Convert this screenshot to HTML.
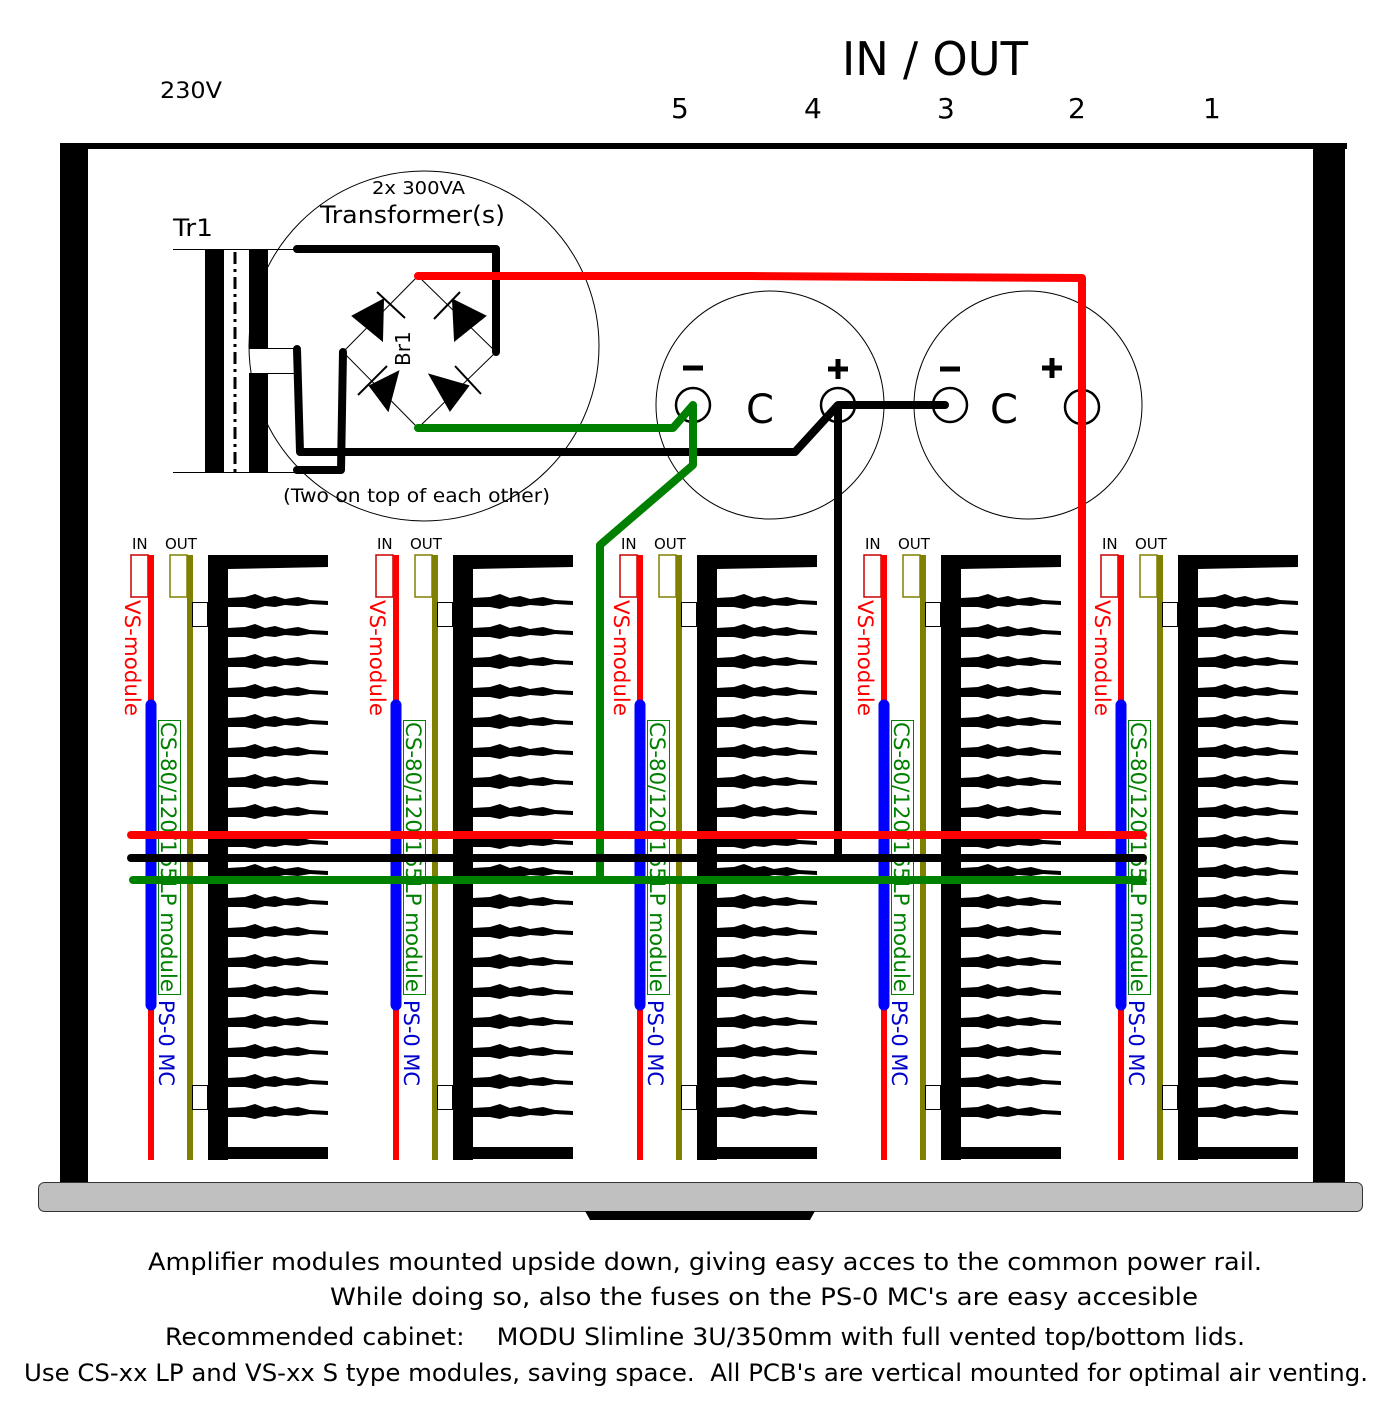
<!DOCTYPE html>
<html><head><meta charset="utf-8"><style>
html,body{margin:0;padding:0;background:#fff;width:1396px;height:1415px;overflow:hidden}
svg{display:block}
text{font-family:"DejaVu Sans","Liberation Sans",sans-serif}
</style></head><body>
<svg id="s" width="1396" height="1415" viewBox="0 0 1396 1415" xmlns="http://www.w3.org/2000/svg">
<text x="160" y="98" font-size="22" textLength="62" lengthAdjust="spacingAndGlyphs">230V</text>
<text x="842" y="75" font-size="46" textLength="186" lengthAdjust="spacingAndGlyphs">IN / OUT</text>
<g font-size="28"><text x="671" y="118">5</text><text x="804" y="118">4</text><text x="937" y="118">3</text><text x="1068" y="118">2</text><text x="1203" y="118">1</text></g>
<!-- cabinet -->
<rect x="60" y="143" width="1287" height="6" fill="#000"/>
<rect x="60" y="143" width="28" height="1042" fill="#000"/>
<rect x="1313" y="143" width="32" height="1042" fill="#000"/>
<rect x="38.5" y="1182.5" width="1324" height="29" rx="6" fill="#c0c0c0" stroke="#333"/>
<path d="M585 1211 H815 L810 1220 H590 Z" fill="#000"/>
<!-- transformer -->
<circle cx="424" cy="346" r="175" fill="none" stroke="#000" stroke-width="1"/>
<text x="372" y="194" font-size="18" textLength="93" lengthAdjust="spacingAndGlyphs">2x 300VA</text>
<text x="320" y="223" font-size="24" textLength="185" lengthAdjust="spacingAndGlyphs">Transformer(s)</text>
<text x="173" y="236" font-size="24" textLength="40" lengthAdjust="spacingAndGlyphs">Tr1</text>
<text x="283" y="502" font-size="19" textLength="267" lengthAdjust="spacingAndGlyphs">(Two on top of each other)</text>
<line x1="173" y1="249.5" x2="300" y2="249.5" stroke="#000"/>
<line x1="173" y1="472.5" x2="300" y2="472.5" stroke="#000"/>
<rect x="205" y="249" width="19" height="223" fill="#000"/>
<line x1="235" y1="252" x2="235" y2="472" stroke="#000" stroke-width="3" stroke-dasharray="12,5,3,5"/>
<rect x="249" y="249" width="19" height="100" fill="#000"/>
<rect x="249" y="373" width="19" height="99" fill="#000"/>
<line x1="268" y1="348.5" x2="300" y2="348.5" stroke="#000"/>
<line x1="268" y1="373.5" x2="300" y2="373.5" stroke="#000"/>
<!-- bridge -->
<path d="M418 276 L496 352 L418 428 L343 352 Z" fill="none" stroke="#000" stroke-width="1"/>
<text transform="translate(410,366) rotate(-90)" font-size="20">Br1</text>
<g fill="#000" stroke="#000" stroke-width="2">
<path d="M353 316 L383 300 L382 340 Z"/><line x1="377" y1="292" x2="405" y2="318"/>
<path d="M485 316 L453 300 L455 340 Z"/><line x1="460" y1="292" x2="434" y2="319"/>
<path d="M370 386 L398 372 L388 410 Z"/><line x1="358" y1="395" x2="387" y2="366"/>
<path d="M468 386 L430 375 L450 410 Z"/><line x1="455" y1="366" x2="481" y2="394"/>
</g>
<!-- capacitors -->
<circle cx="770" cy="405" r="114" fill="none" stroke="#000"/>
<circle cx="1028" cy="405" r="114" fill="none" stroke="#000"/>
<g fill="none" stroke="#000" stroke-width="2.5">
<circle cx="693" cy="405" r="17"/><circle cx="838" cy="405" r="17"/><circle cx="950" cy="405" r="17"/><circle cx="1082" cy="407" r="17"/>
</g>
<g font-size="40"><text x="746" y="423">C</text><text x="990" y="423">C</text></g>
<g stroke="#000" stroke-width="5"><line x1="683" y1="368" x2="703" y2="368"/><line x1="828" y1="369" x2="848" y2="369"/><line x1="838" y1="359" x2="838" y2="379"/>
<line x1="940" y1="369" x2="960" y2="369"/><line x1="1042" y1="368" x2="1062" y2="368"/><line x1="1052" y1="358" x2="1052" y2="378"/></g>
<!-- wires -->
<g fill="none" stroke-width="8" stroke-linecap="round" stroke-linejoin="round">
<path d="M297 249 H496 V352" stroke="#000"/>
<path d="M297 349 L300 452 H795 L838 405 H945" stroke="#000"/>
<path d="M343 352 L341 470 H297" stroke="#000"/>
<path d="M838 405 V858" stroke="#000" stroke-linecap="butt"/>
<path d="M418 276 H750 L1082 278 V835" stroke="#f00"/>
<path d="M418 428 H673 L693 405 V465 L600 545 V880" stroke="#008000"/>
</g>
<g id="mods"></g>
<g stroke-width="8" stroke-linecap="round">
<line x1="131" y1="835" x2="1143" y2="835" stroke="#f00"/>
<line x1="131" y1="858" x2="1143" y2="858" stroke="#000"/>
<line x1="133" y1="880" x2="1143" y2="880" stroke="#008000"/>
</g>
<g font-size="24" fill="#000">
<text x="148" y="1270" textLength="1114" lengthAdjust="spacingAndGlyphs">Amplifier modules mounted upside down, giving easy acces to the common power rail.</text>
<text x="330" y="1305" textLength="868" lengthAdjust="spacingAndGlyphs">While doing so, also the fuses on the PS-0 MC's are easy accesible</text>
<text x="165" y="1345" textLength="1080" lengthAdjust="spacingAndGlyphs" xml:space="preserve">Recommended cabinet:    MODU Slimline 3U/350mm with full vented top/bottom lids.</text>
<text x="24" y="1381" textLength="1344" lengthAdjust="spacingAndGlyphs" xml:space="preserve">Use CS-xx LP and VS-xx S type modules, saving space.  All PCB's are vertical mounted for optimal air venting.</text>
</g>
</svg>
<script>
var g=document.getElementById('mods'),h='';
var offs=[0,245,489,733,970];
for(var i=0;i<5;i++){var o=offs[i];
h+='<g transform="translate('+o+',0)">';
h+='<text x="132" y="549" font-size="15">IN</text><text x="165" y="549" font-size="15">OUT</text>';
h+='<rect x="131" y="555" width="17" height="42" fill="none" stroke="#c00" stroke-width="1.5"/>';
h+='<rect x="170" y="555" width="17" height="42" fill="none" stroke="#808000" stroke-width="1.5"/>';
h+='<rect x="148" y="555" width="6" height="605" fill="#f00"/>';
h+='<rect x="187" y="555" width="6" height="605" fill="#808000"/>';
h+='<rect x="192.5" y="602.5" width="15" height="24" fill="#fff" stroke="#000"/>';
h+='<rect x="192.5" y="1085.5" width="15" height="24" fill="#fff" stroke="#000"/>';
h+='<rect x="158.5" y="720.5" width="22" height="274" fill="#fff" stroke="#008000"/>';
h+='<text transform="translate(125,600) rotate(90)" font-size="21" fill="#f00" textLength="116" lengthAdjust="spacingAndGlyphs">VS-module</text>';
h+='<text transform="translate(161,722) rotate(90)" font-size="21" fill="#008000" textLength="270" lengthAdjust="spacingAndGlyphs">CS-80/120/165LP module</text>';
h+='<text transform="translate(159,1000) rotate(90)" font-size="21" fill="#00c" textLength="86" lengthAdjust="spacingAndGlyphs">PS-0 MC</text>';
h+='<line x1="151" y1="705" x2="151" y2="1005" stroke="#00f" stroke-width="11" stroke-linecap="round"/>';
h+='<rect x="208" y="555" width="20" height="605" fill="#000"/>';
h+='<path d="M208 555 H328 V567 L228 569 Z" fill="#000"/>';
h+='<path d="M228 1147 H328 V1159 H228 Z" fill="#000"/>';
for(var k=0;k<18;k++){var y=602+k*30;
h+='<path d="M228 '+(y-4)+' L245 '+(y-5)+' L255 '+(y-8)+' L265 '+(y-4)+' L275 '+(y-6)+' L285 '+(y-3)+' L298 '+(y-5)+' L310 '+(y-2)+' L328 '+(y-1)+' V'+(y+3)+' L310 '+(y+2)+' L298 '+(y+4)+' L285 '+(y+3)+' L275 '+(y+5)+' L265 '+(y+4)+' L255 '+(y+7)+' L245 '+(y+5)+' L228 '+(y+5)+' Z" fill="#000"/>';}
h+='</g>';}
g.innerHTML=h;
</script>
</body></html>
